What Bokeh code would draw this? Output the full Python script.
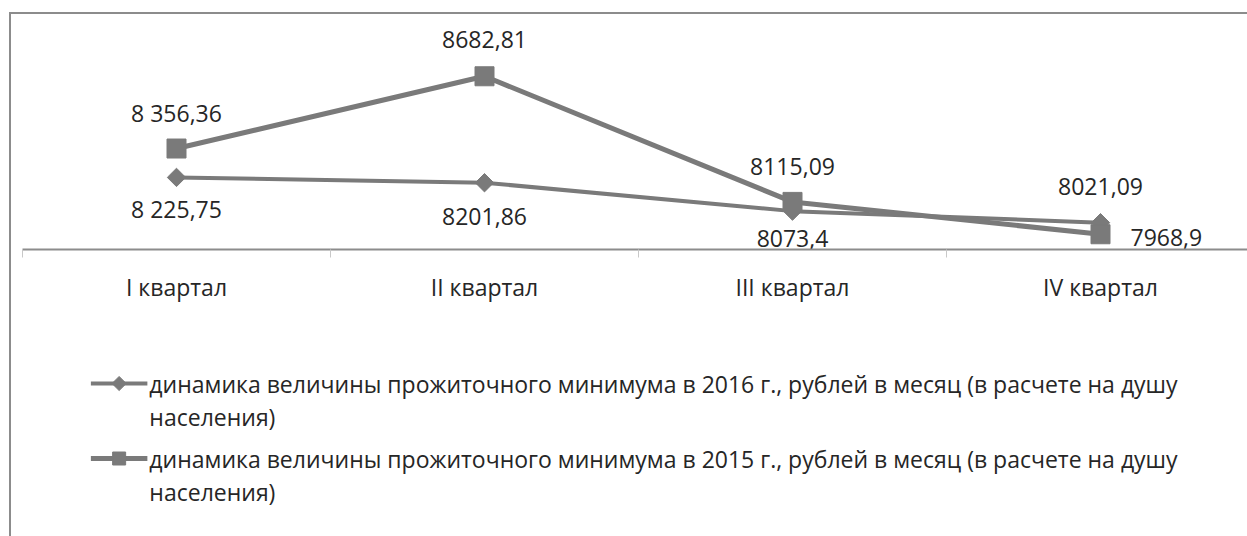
from bokeh.plotting import figure
from bokeh.models import Range1d, FixedTicker, ColumnDataSource
from bokeh.layouts import column
from bokeh.embed import file_html
from bokeh.resources import INLINE
from bokeh.core.properties import value
import math

quarters = ["I квартал", "II квартал", "III квартал", "IV квартал"]
values_2016 = [8225.75, 8201.86, 8073.4, 8021.09]
values_2015 = [8356.36, 8682.81, 8115.09, 7968.9]
labels_2016 = ["8 225,75", "8201,86", "8073,4", "8021,09"]
labels_2015 = ["8 356,36", "8682,81", "8115,09", "7968,9"]
legend_2016 = "динамика величины прожиточного минимума в 2016 г., рублей в месяц (в расчете на душу\nнаселения)"
legend_2015 = "динамика величины прожиточного минимума в 2015 г., рублей в месяц (в расчете на душу\nнаселения)"

# label placement (style only, pixels)
off_y_2016 = [32, 34, 27, -36]
off_x_2016 = [0, 0, 0, 0]
align_2016 = ["center", "center", "center", "center"]
off_y_2015 = [-36, -37, -35, 3]
off_x_2015 = [0, 0, 0, 30]
align_2015 = ["center", "center", "center", "left"]

xs = [i + 0.5 for i in range(len(quarters))]

FONT = "Open Sans"
GRAY = "#7a7a7a"
TXT = "#262626"

W = 1236
H1 = 300
H2 = 222
p = figure(width=W, height=H1, output_backend="svg", toolbar_location=None,
           x_range=Range1d(0, 1225 / 308), y_range=Range1d(7900, 8962),
           y_axis_location=None, min_border_left=11, min_border_right=0,
           min_border_top=0, min_border_bottom=H1 - 235)
p.outline_line_color = None
p.xgrid.visible = False
p.ygrid.visible = False

src16 = ColumnDataSource(dict(x=xs, y=values_2016, t=labels_2016, ox=off_x_2016, oy=off_y_2016, al=align_2016))
src15 = ColumnDataSource(dict(x=xs, y=values_2015, t=labels_2015, ox=off_x_2015, oy=off_y_2015, al=align_2015))

line16 = dict(line_color=GRAY, line_width=4)
mark16 = dict(marker="square", angle=math.pi / 4, size=13, fill_color=GRAY, line_color=GRAY)
line15 = dict(line_color=GRAY, line_width=5)
mark15 = dict(marker="square", size=19, fill_color=GRAY, line_color=GRAY)

p.line("x", "y", source=src16, **line16)
p.scatter("x", "y", source=src16, **mark16)
p.line("x", "y", source=src15, **line15)
p.scatter("x", "y", source=src15, **mark15)

for src in (src16, src15):
    p.text("x", "y", text="t", source=src, x_offset="ox", y_offset="oy",
           text_align="al", text_baseline="middle", text_font=value(FONT),
           text_font_size="23px", text_color=TXT)

ax = p.xaxis[0]
ax.ticker = FixedTicker(ticks=xs, minor_ticks=list(range(len(quarters) + 1)))
ax.major_label_overrides = {x: q for x, q in zip(xs, quarters)}
ax.major_tick_out = 0
ax.major_tick_in = 0
ax.minor_tick_out = 8
ax.minor_tick_in = 0
ax.minor_tick_line_color = "#c8c8c8"
ax.axis_line_color = "#8c8c8c"
ax.axis_line_width = 2
ax.major_label_standoff = 13
ax.major_label_text_font = FONT
ax.major_label_text_font_size = "23px"
ax.major_label_text_color = TXT

# legend panel (pixel coordinates, y measured from the top)
q = figure(width=W, height=H2, output_backend="svg", toolbar_location=None,
           x_range=Range1d(0, W), y_range=Range1d(H2, 0),
           x_axis_location=None, y_axis_location=None, min_border=0)
q.outline_line_color = None
q.xgrid.visible = False
q.ygrid.visible = False

SW_X0, SW_X1, TXT_X = 69, 126, 128
ROW_Y = [69, 144]
LINE_GAP = 33
entries = [(legend_2016, line16, dict(mark16, size=10)),
           (legend_2015, line15, dict(mark15, size=13))]
for (label, lstyle, mstyle), y0 in zip(entries, ROW_Y):
    q.segment(x0=[SW_X0], y0=[y0], x1=[SW_X1], y1=[y0], **lstyle)
    q.scatter(x=[(SW_X0 + SW_X1) / 2], y=[y0], **mstyle)
    lines = label.split("\n")
    q.text(x=[TXT_X] * len(lines), y=[y0 + i * LINE_GAP for i in range(len(lines))],
           text=lines, text_align="left", text_baseline="middle",
           text_font=value(FONT), text_font_size="23px", text_color=TXT)

lay = column(p, q, spacing=0)
lay.styles = {"border-left": "2px solid #8c8c8c", "border-top": "2px solid #8c8c8c",
              "margin-left": "9px", "margin-top": "12px"}

open("out.html", "w").write(file_html(lay, INLINE))
